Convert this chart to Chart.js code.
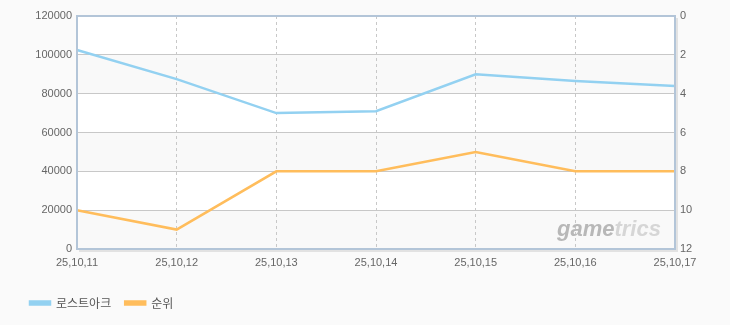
<!DOCTYPE html>
<html>
<head>
<meta charset="utf-8">
<script src="https://cdn.jsdelivr.net/npm/chart.js@4"></script>
<style>
  body { margin: 0; background: #fafafa; }
  #wrap { width: 730px; height: 325px; }
</style>
</head>
<body>
<div id="wrap"><canvas id="rankChart" width="730" height="325"></canvas></div>
<script>
// values
const dates = ["25,10,11", "25,10,12", "25,10,13", "25,10,14", "25,10,15", "25,10,16", "25,10,17"];
const arkValues = [102500, 87500, 70000, 71000, 90000, 86500, 84000];
const rankValues = [10, 11, 8, 8, 7, 8, 8];
const seriesNames = ["로스트아크", "순위"];

const tickFont = { family: "'Liberation Sans', Arial, sans-serif", size: 11 };

// alternating bands + frame around the plot area
const plotFrame = {
  id: "plotFrame",
  beforeDraw(chart) {
    const { ctx, chartArea: a, scales } = chart;
    ctx.save();
    ctx.fillStyle = "#ffffff";
    ctx.fillRect(a.left, a.top, a.right - a.left, a.bottom - a.top);
    const ticks = scales.y.ticks;
    ctx.fillStyle = "#f9f9f9";
    for (let i = 0; i < ticks.length - 1; i += 2) {
      const y0 = scales.y.getPixelForValue(ticks[i].value);
      const y1 = scales.y.getPixelForValue(ticks[i + 1].value);
      ctx.fillRect(a.left, y1, a.right - a.left, y0 - y1);
    }
    ctx.restore();
  },
  beforeDatasetsDraw(chart) {
    const { ctx, chartArea: a } = chart;
    ctx.save();
    ctx.font = "italic bold 22px 'Liberation Sans', Arial, sans-serif";
    ctx.textBaseline = "alphabetic";
    const x = a.right - 118, y = a.bottom - 13;
    ctx.fillStyle = "#b8b8b8";
    ctx.fillText("game", x, y);
    const w = ctx.measureText("game").width;
    ctx.fillStyle = "#d6d6d6";
    ctx.fillText("trics", x + w, y);
    ctx.restore();
  },
  afterDraw(chart) {
    const { ctx, chartArea: a } = chart;
    ctx.save();
    ctx.strokeStyle = "#e2e2e2";
    ctx.lineWidth = 2;
    ctx.beginPath();
    ctx.moveTo(a.left + 2, a.bottom + 2);
    ctx.lineTo(a.right + 2, a.bottom + 2);
    ctx.lineTo(a.right + 2, a.top + 2);
    ctx.stroke();
    ctx.strokeStyle = "#b3c5d8";
    ctx.lineWidth = 2;
    ctx.strokeRect(a.left, a.top, a.right - a.left, a.bottom - a.top);
    ctx.restore();
  }
};

new Chart(document.getElementById("rankChart"), {
  type: "line",
  data: {
    labels: dates,
    datasets: [
      {
        label: seriesNames[0],
        data: arkValues,
        yAxisID: "y",
        borderColor: "#93d1f1",
        backgroundColor: "#93d1f1",
        borderWidth: 2.5,
        pointRadius: 0,
        tension: 0
      },
      {
        label: seriesNames[1],
        data: rankValues,
        yAxisID: "y2",
        borderColor: "#ffbd5c",
        backgroundColor: "#ffbd5c",
        borderWidth: 2.5,
        pointRadius: 0,
        tension: 0
      }
    ]
  },
  options: {
    responsive: false,
    animation: false,
    layout: { padding: { left: 16, right: 0, top: 16, bottom: 6 } },
    plugins: {
      tooltip: { enabled: false },
      legend: {
        position: "bottom",
        align: "start",
        labels: {
          boxWidth: 20,
          boxHeight: 3,
          padding: 14,
          color: "#555555",
          font: { family: "'Noto Sans CJK KR', sans-serif", size: 12 }
        }
      }
    },
    scales: {
      x: {
        offset: false,
        grid: { color: "#c8c8c8", drawTicks: false },
        border: { display: false, dash: [3, 3] },
        ticks: { padding: 7, maxRotation: 0, autoSkip: false, color: "#666666", font: tickFont },
        afterFit(s) { s.height = 34; }
      },
      y: {
        position: "left",
        min: 0,
        max: 120000,
        grid: { color: "#c8c8c8", drawTicks: false },
        border: { display: false },
        ticks: {
          stepSize: 20000, padding: 5, color: "#666666", font: tickFont,
          callback: (v) => String(v)
        },
        afterFit(s) { s.width = 61; }
      },
      y2: {
        position: "right",
        reverse: true,
        min: 0,
        max: 12,
        grid: { drawOnChartArea: false, drawTicks: false },
        border: { display: false },
        ticks: { stepSize: 2, padding: 5, color: "#666666", font: tickFont },
        afterFit(s) { s.width = 55; }
      }
    }
  },
  plugins: [plotFrame]
});
</script>
</body>
</html>
